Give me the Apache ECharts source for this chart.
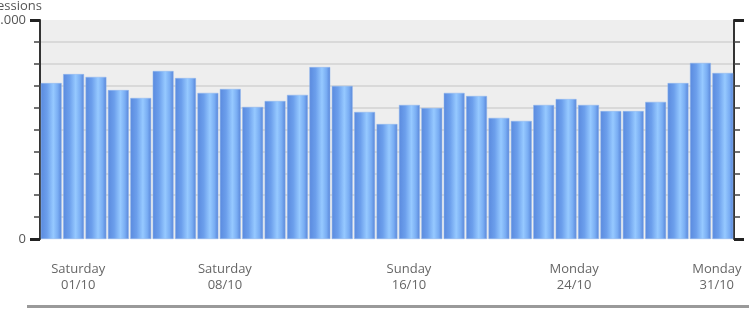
<!DOCTYPE html>
<html>
<head>
<meta charset="utf-8">
<script src="https://cdn.jsdelivr.net/npm/echarts@6/dist/echarts.min.js"></script>
<style>
  html, body { margin: 0; padding: 0; background: #fff; }
  #chart { width: 749px; height: 309px; }
</style>
</head>
<body>
<div id="chart"></div>
<script>
const days = [
  "01/10", "02/10", "03/10", "04/10", "05/10", "06/10", "07/10", "08/10",
  "09/10", "10/10", "11/10", "12/10", "13/10", "14/10", "15/10", "16/10",
  "17/10", "18/10", "19/10", "20/10", "21/10", "22/10", "23/10", "24/10",
  "25/10", "26/10", "27/10", "28/10", "29/10", "30/10", "31/10",
];
const sessions = [
  712, 753, 740, 680, 644, 767, 735, 667, 685, 603, 630, 658, 785, 699, 580, 525,
  612, 598, 667, 653, 553, 539, 612, 639, 612, 584, 584, 626, 712, 804, 758,
];
const labelIdx = [0, 7, 15, 23, 30];
const labelDays = ["Saturday", "Saturday", "Sunday", "Monday", "Monday"];

// small nudges so the labels sit where the original put them
const LABEL_NUDGE = [27, 17, 22, 8, -6];

const chart = echarts.init(document.getElementById("chart"));

const rich = {};
LABEL_NUDGE.forEach((n, i) => {
  rich["n" + i] = {
    fontFamily: "Open Sans",
    fontSize: 13,
    color: "#666",
    lineHeight: 16,
    padding: n >= 0 ? [0, 0, 0, n * 2] : [0, -n * 2, 0, 0],
  };
});

const barColor = new echarts.graphic.LinearGradient(0, 0, 1, 0, [
  { offset: 0, color: "#5a8ade" },
  { offset: 0.3, color: "#6c9fec" },
  { offset: 0.6, color: "#96c9ff" },
  { offset: 0.82, color: "#79adf3" },
  { offset: 1, color: "#5885d8" },
]);

const axisBase = {
  type: "value",
  min: 0,
  max: 1000,
  interval: 1000,
  axisLine: { show: true, lineStyle: { color: "#333", width: 2 } },
  axisTick: { show: true, length: 10, lineStyle: { color: "#222", width: 3 } },
  minorTick: { show: true, splitNumber: 10, length: 6, lineStyle: { color: "#444", width: 1.5 } },
  splitLine: { show: false },
};

chart.setOption({
  animation: false,
  grid: {
    left: 40,
    right: 15,
    top: 20,
    bottom: 70,
    outerBoundsMode: "none",
    containLabel: false,
    show: true,
    backgroundColor: "#eeeeee",
    borderWidth: 0,
  },
  xAxis: {
    type: "category",
    data: days,
    axisLine: { show: false },
    axisTick: { show: false },
    axisLabel: {
      margin: 22,
      interval: (i) => labelIdx.includes(i),
      formatter: (v, i) => {
        const k = labelIdx.indexOf(i);
        if (k < 0) return "";
        return `{n${k}|${labelDays[k]}}\n{n${k}|${v}}`;
      },
      rich,
    },
  },
  yAxis: [
    {
      ...axisBase,
      position: "left",
      name: "Sessions",
      nameLocation: "end",
      nameGap: 7,
      nameTextStyle: { fontFamily: "Open Sans", fontSize: 13, color: "#555", align: "right", padding: [0, -2, 0, 0] },
      axisLabel: {
        margin: 14,
        fontFamily: "Open Sans",
        fontSize: 13,
        color: "#555",
        formatter: (v) => (v === 1000 ? "1.000" : String(v)),
      },
      minorSplitLine: { show: true, lineStyle: { color: "#d9d9d9", width: 2 } },
    },
    {
      ...axisBase,
      position: "right",
      axisLabel: { show: false },
    },
  ],
  series: [
    {
      type: "bar",
      data: sessions,
      barCategoryGap: "7%",
      itemStyle: { color: barColor, borderColor: "#8fb7ee", borderWidth: 0.5 },
    },
  ],
  graphic: [
    {
      type: "rect",
      shape: { x: 27, y: 305, width: 722, height: 3 },
      style: { fill: "#9a9a9a" },
    },
  ],
});
</script>
</body>
</html>
